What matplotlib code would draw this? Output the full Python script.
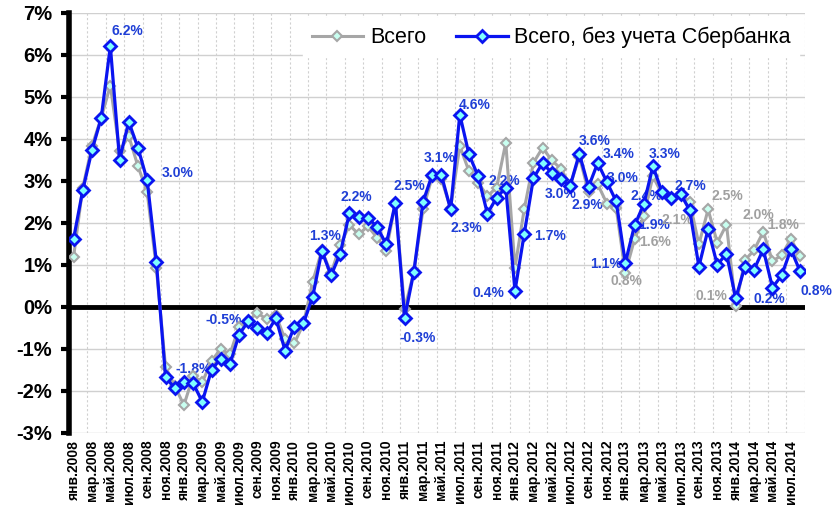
import numpy as np
import matplotlib.pyplot as plt
from matplotlib.ticker import FixedLocator, FuncFormatter

plt.rcParams['font.family'] = ['Liberation Sans', 'DejaVu Sans']

# ежемесячные данные, янв.2008 - авг.2014
months = ['янв', 'фев', 'мар', 'апр', 'май', 'июн', 'июл', 'авг', 'сен', 'окт', 'ноя', 'дек']
years = list(range(2008, 2015))
dates = [m + '.' + str(y) for y in years for m in months][:80]

total = [1.19, 2.84, 3.83, 4.50, 5.27, 3.71, 4.07, 3.35, 2.74, 0.93,
         -1.43, -1.88, -2.34, -1.65, -1.79, -1.29, -1.00, -1.13, -0.47, -0.33,
         -0.14, -0.30, -0.20, -0.77, -0.87, -0.40, 0.60, 1.35, 0.80, 1.47,
         1.95, 1.73, 1.92, 1.65, 1.33, 2.48, -0.05, 0.83, 2.32, 3.10,
         3.04, 2.35, 3.83, 3.23, 2.96, 2.64, 2.84, 3.91, 0.93, 2.32,
         3.43, 3.79, 3.49, 3.29, 2.89, 3.58, 2.73, 2.92, 2.46, 2.36,
         0.81, 1.61, 2.16, 3.11, 2.68, 2.56, 2.68, 2.50, 1.49, 2.32,
         1.53, 1.96, 0.02, 1.11, 1.35, 1.79, 1.09, 1.23, 1.62, 1.21]

no_sber = [1.62, 2.78, 3.73, 4.49, 6.21, 3.51, 4.41, 3.79, 3.02, 1.08,
           -1.67, -1.94, -1.78, -1.82, -2.26, -1.50, -1.23, -1.37, -0.66, -0.34,
           -0.51, -0.63, -0.27, -1.04, -0.47, -0.39, 0.24, 1.33, 0.75, 1.27,
           2.24, 2.14, 2.12, 1.91, 1.49, 2.48, -0.26, 0.83, 2.50, 3.15,
           3.14, 2.32, 4.58, 3.63, 3.11, 2.22, 2.60, 2.84, 0.38, 1.73,
           3.06, 3.43, 3.19, 3.04, 2.88, 3.65, 2.86, 3.43, 2.97, 2.52,
           1.05, 1.94, 2.44, 3.35, 2.73, 2.60, 2.70, 2.30, 0.96, 1.85,
           1.00, 1.27, 0.20, 0.96, 0.89, 1.37, 0.46, 0.75, 1.37, 0.85]

# подписи: текст, x (месяц), y (%)
blue_labels = [('6.2%', 5.9, 6.56), ('3.0%', 11.3, 3.20), ('-1.8%', 13.1, -1.49),
               ('-0.5%', 16.3, -0.32), ('1.3%', 27.4, 1.68), ('2.2%', 30.7, 2.61),
               ('-0.3%', 37.4, -0.73), ('2.5%', 36.5, 2.87), ('3.1%', 39.85, 3.54),
               ('4.6%', 43.65, 4.82), ('2.3%', 42.75, 1.87), ('2.2%', 46.8, 2.99),
               ('0.4%', 45.1, 0.32), ('1.7%', 51.8, 1.68), ('3.0%', 53.0, 2.68),
               ('3.6%', 56.7, 3.94), ('2.9%', 55.9, 2.42), ('3.4%', 59.3, 3.65),
               ('3.0%', 59.7, 3.08), ('1.1%', 57.9, 1.01), ('2.4%', 62.3, 2.63),
               ('1.9%', 63.1, 1.94), ('3.3%', 64.3, 3.63), ('2.7%', 67.1, 2.89),
               ('0.2%', 75.7, 0.18), ('0.8%', 80.8, 0.37)]
grey_labels = [('0.8%', 60.1, 0.61), ('1.6%', 63.2, 1.54), ('2.1%', 65.65, 2.06),
               ('2.5%', 71.1, 2.63), ('0.1%', 69.4, 0.27), ('2.0%', 74.5, 2.18),
               ('1.8%', 77.1, 1.94)]

blue = '#0A14F0'
grey = '#A6A6A6'
x = np.arange(len(dates))

fig = plt.figure(figsize=(8.36, 5.19), dpi=100)
ax = fig.add_axes([0.0825, 0.166, 0.880, 0.809])

ax.plot(x, total, color=grey, lw=2.2, marker='D', ms=5, mfc='#C8FFF0', mec=grey, mew=1.5,
        label='Всего', zorder=3)
ax.plot(x, no_sber, color=blue, lw=2.3, marker='D', ms=6.5, mfc='#7FFFFF', mec=blue, mew=2,
        label='Всего, без учета Сбербанка', zorder=4)

for t, tx, ty in blue_labels:
    ax.text(tx, ty, t, color='#1F3FD6', fontsize=10, fontweight='bold', ha='center', va='center', zorder=2)
for t, tx, ty in grey_labels:
    ax.text(tx, ty, t, color='#A0A0A0', fontsize=10, fontweight='bold', ha='center', va='center', zorder=2)

ax.axhline(0, color='black', lw=3.5, zorder=2.5)

ax.set_xlim(-0.5, len(dates) - 0.5)
ax.set_ylim(-3, 7)
ax.set_yticks(np.arange(-3, 8, 1))
ax.yaxis.set_major_formatter(FuncFormatter(lambda v, p: '%d%%' % v))
ax.set_xticks(x[::2])
ax.set_xticklabels(dates[::2], rotation=90, fontsize=10, fontweight='bold')
ax.xaxis.set_minor_locator(FixedLocator(np.arange(1.5, len(dates), 2)))

ax.grid(axis='y', color='#D0D0D0', lw=1)
ax.grid(axis='x', which='minor', color='#D0D0D0', lw=0.8, ls=(0, (2, 2)))
ax.set_axisbelow(True)

for lab in ax.get_yticklabels():
    lab.set_fontsize(14.5)
    lab.set_fontweight('bold')
ax.tick_params(axis='y', length=6, width=3, pad=6)
ax.tick_params(axis='x', which='both', length=0, pad=5)

ax.spines['left'].set_linewidth(4)
ax.spines['right'].set_visible(False)
ax.spines['top'].set_visible(False)
ax.spines['bottom'].set_visible(False)

leg = ax.legend(loc='upper right', ncol=2, fontsize=15.5, frameon=True, handlelength=2.4,
                columnspacing=1.4, handletextpad=0.3, borderaxespad=0.25)
leg.get_frame().set_edgecolor('white')
leg.get_frame().set_alpha(1)
leg.get_frame().set_boxstyle('square', pad=0)

plt.savefig('out.png', dpi=100)
